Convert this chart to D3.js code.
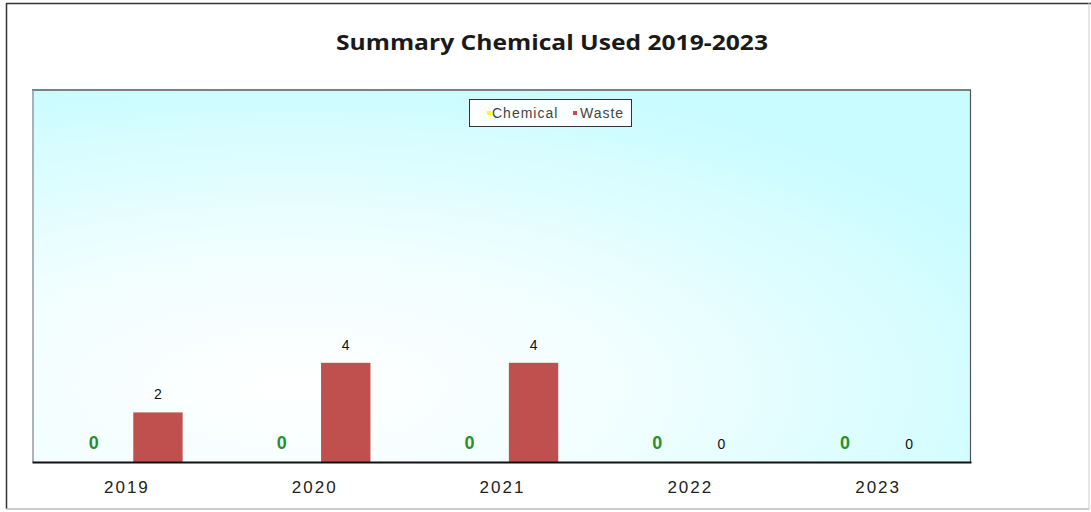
<!DOCTYPE html>
<html>
<head>
<meta charset="utf-8">
<script src="https://cdn.jsdelivr.net/npm/d3@7/dist/d3.min.js"></script>
<style>
  html, body { margin: 0; padding: 0; background: #ffffff; }
  svg { display: block; }
</style>
</head>
<body>
<svg id="chart" width="1091" height="512"></svg>
<script>
// ---- data ----
const categories = ["2019", "2020", "2021", "2022", "2023"];
const seriesNames = ["Chemical", "Waste"];
const chemicalValues = [0, 0, 0, 0, 0];
const wasteValues = [2, 4, 4, 0, 0];
const titleText = "Summary Chemical Used 2019-2023";

const seriesColors = { Chemical: "#ffff00", Waste: "#c0504d" };

const svg = d3.select("#chart");
const W = 1091, H = 512;
const plot = { left: 32, right: 971, top: 90, bottom: 462 };

// gradient background
const defs = svg.append("defs");
const grad = defs.append("radialGradient")
  .attr("id", "bg").attr("cx", "28%").attr("cy", "80%").attr("r", "85%");
grad.append("stop").attr("offset", "0%").attr("stop-color", "#ffffff");
grad.append("stop").attr("offset", "45%").attr("stop-color", "#f0feff");
grad.append("stop").attr("offset", "100%").attr("stop-color", "#c9fcff");

// outer frame
svg.append("line").attr("x1", 6).attr("x2", W).attr("y1", 3.5).attr("y2", 3.5)
  .attr("stroke", "#333").attr("stroke-width", 1.5);
svg.append("line").attr("x1", 6.5).attr("x2", 6.5).attr("y1", 3).attr("y2", 509)
  .attr("stroke", "#333").attr("stroke-width", 1.5);
svg.append("line").attr("x1", 6).attr("x2", 1089).attr("y1", 509).attr("y2", 509)
  .attr("stroke", "#bbb").attr("stroke-width", 1.5);
svg.append("line").attr("x1", 1089).attr("x2", 1089).attr("y1", 3).attr("y2", 509)
  .attr("stroke", "#ccc").attr("stroke-width", 1);

// title
svg.append("text")
  .attr("x", 552).attr("y", 50)
  .attr("text-anchor", "middle")
  .attr("textLength", 432).attr("lengthAdjust", "spacingAndGlyphs")
  .style("font-family", "'Open Sans', 'Noto Sans', sans-serif")
  .style("font-weight", "bold").style("font-size", "21px")
  .attr("fill", "#1a1a1a")
  .text(titleText);

// scales
const x0 = d3.scaleBand().domain(categories).range([plot.left, plot.right]).paddingInner(0).paddingOuter(0);
const x1 = d3.scaleBand().domain(seriesNames).range([0, x0.bandwidth()]).paddingInner(0.23).paddingOuter(0.58);
const y = d3.scaleLinear().domain([0, 15]).range([plot.bottom, plot.top]);

// plot area
svg.append("rect")
  .attr("x", plot.left).attr("y", plot.top)
  .attr("width", plot.right - plot.left).attr("height", plot.bottom - plot.top)
  .attr("fill", "url(#bg)");
svg.append("line").attr("x1", plot.left).attr("x2", plot.right).attr("y1", plot.top).attr("y2", plot.top)
  .attr("stroke", "#808080").attr("stroke-width", 2);
svg.append("line").attr("x1", plot.left + 1).attr("x2", plot.left + 1).attr("y1", plot.top).attr("y2", plot.bottom)
  .attr("stroke", "#9a9a9a").attr("stroke-width", 1.5);
svg.append("line").attr("x1", plot.right - 0.5).attr("x2", plot.right - 0.5).attr("y1", plot.top).attr("y2", plot.bottom)
  .attr("stroke", "#555").attr("stroke-width", 1.2);

// data rows
const rows = categories.map((c, i) => ({
  cat: c,
  vals: [
    { key: "Chemical", value: chemicalValues[i] },
    { key: "Waste", value: wasteValues[i] }
  ]
}));

const groups = svg.append("g").selectAll("g").data(rows).join("g")
  .attr("transform", d => `translate(${x0(d.cat)},0)`);

groups.selectAll("rect").data(d => d.vals).join("rect")
  .attr("x", d => x1(d.key))
  .attr("width", x1.bandwidth())
  .attr("y", d => y(d.value))
  .attr("height", d => y(0) - y(d.value))
  .attr("fill", d => seriesColors[d.key]);

groups.selectAll("text").data(d => d.vals).join("text")
  .attr("x", d => x1(d.key) + x1.bandwidth() / 2)
  .attr("y", d => y(d.value) - 13)
  .attr("text-anchor", "middle")
  .style("font-family", "'Liberation Sans', Arial, sans-serif")
  .style("font-size", d => d.key === "Chemical" ? "18px" : "14px")
  .style("font-weight", d => d.key === "Chemical" ? "bold" : "normal")
  .attr("fill", d => d.key === "Chemical" ? "#2a8f2a" : "#111")
  .text(d => d.value);

// x axis
const xAxis = d3.axisBottom(x0).tickSize(0).tickPadding(19);
const gx = svg.append("g").attr("transform", `translate(0,${plot.bottom})`).call(xAxis);
gx.select(".domain").attr("stroke", "#111").attr("stroke-width", 2.2);
gx.selectAll("text")
  .style("font-family", "'Liberation Sans', Arial, sans-serif")
  .style("font-size", "17px")
  .style("letter-spacing", "2px")
  .attr("dx", "1px")
  .attr("fill", "#222");

// legend
const lg = svg.append("g");
lg.append("rect").attr("x", 469.5).attr("y", 99.5).attr("width", 162).attr("height", 27)
  .attr("fill", "#fbffff").attr("stroke", "#333").attr("stroke-width", 1);
const legendItems = [
  { key: "Chemical", mx: 487, tx: 492 },
  { key: "Waste", mx: 573, tx: 580 }
];
legendItems.forEach(it => {
  lg.append("rect").attr("x", it.mx).attr("y", 111).attr("width", 4).attr("height", 4)
    .attr("fill", seriesColors[it.key]);
  lg.append("text").attr("x", it.tx).attr("y", 117.5)
    .style("font-family", "'Liberation Sans', Arial, sans-serif")
    .style("font-size", "14px").style("letter-spacing", "1px")
    .attr("fill", "#444")
    .text(it.key);
});
</script>
</body>
</html>
